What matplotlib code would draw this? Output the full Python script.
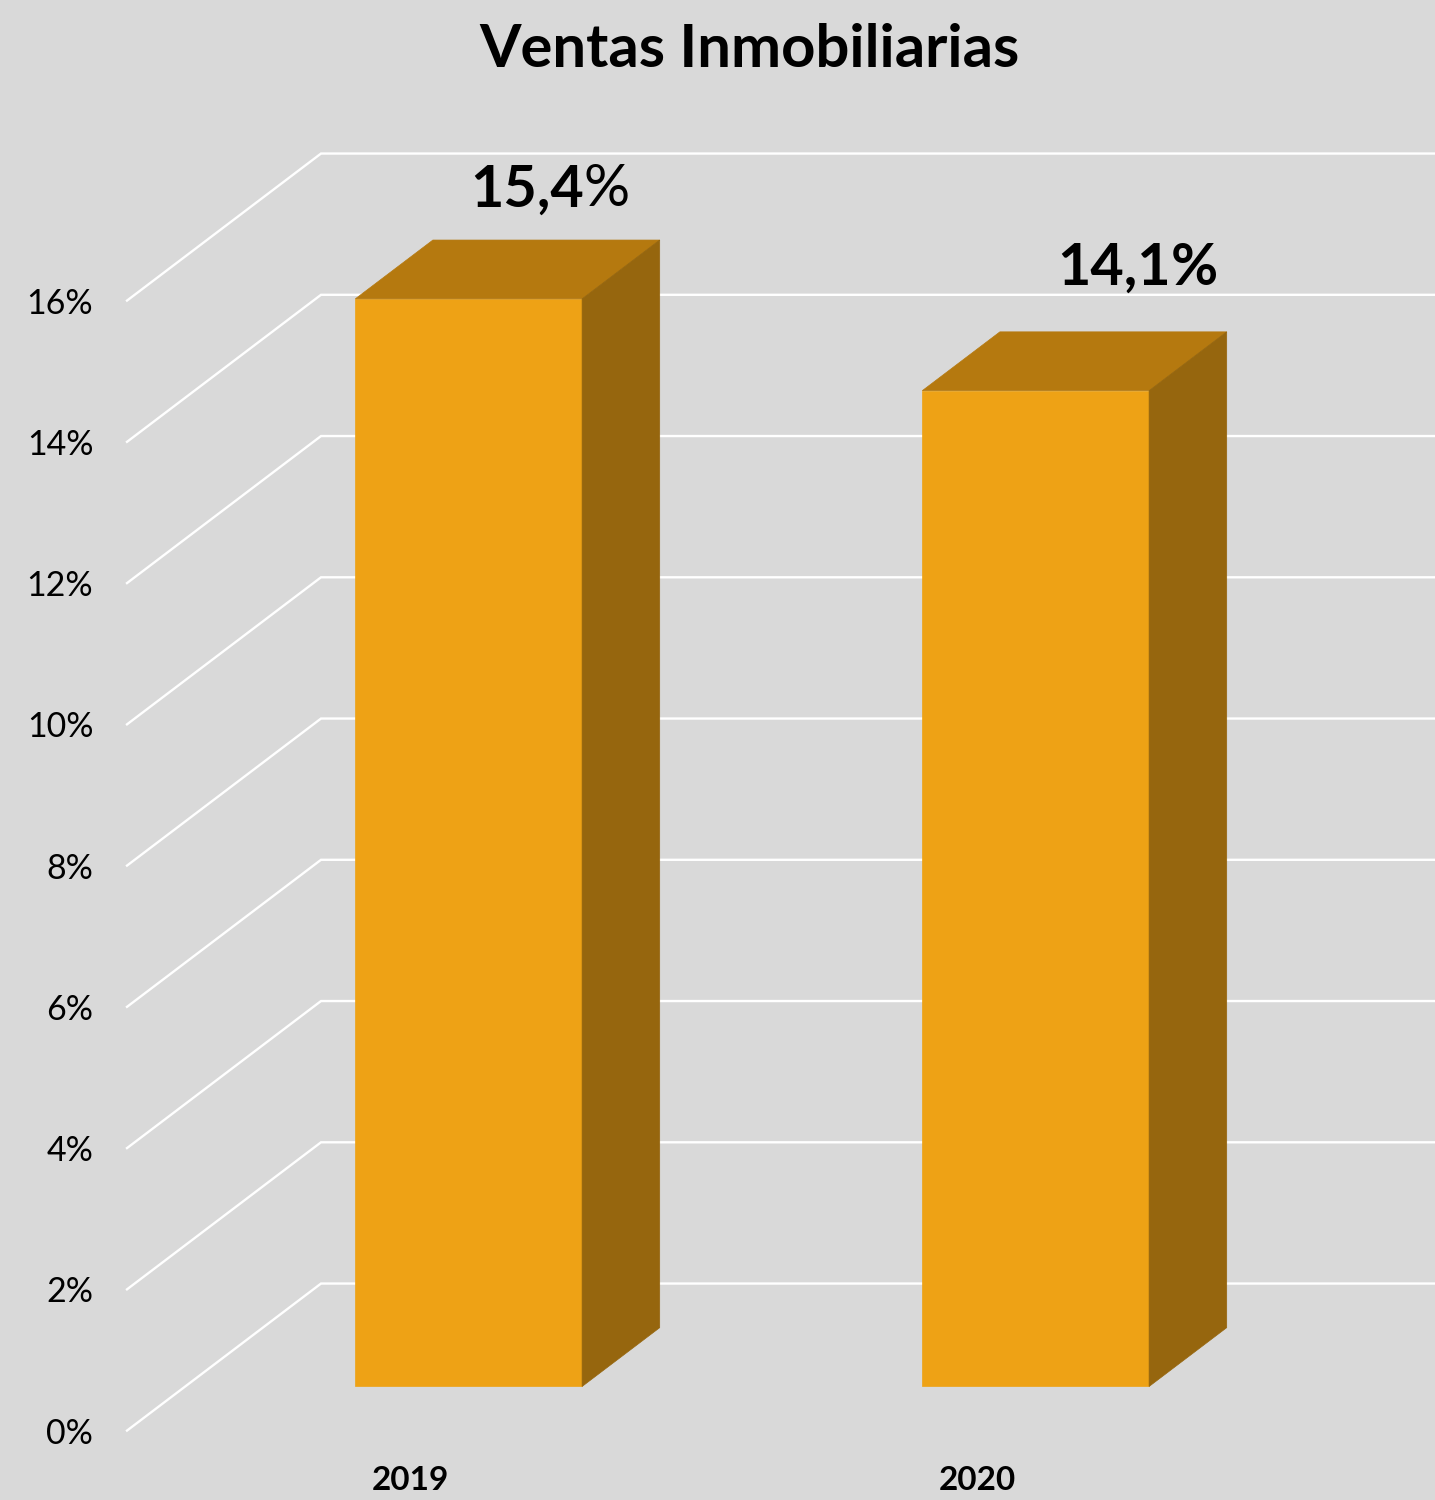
import numpy as np
import matplotlib
matplotlib.use("Agg")
import matplotlib.pyplot as plt

titulo = "Ventas Inmobiliarias"
anios = ["2019", "2020"]
ventas = [15.4, 14.1]
etiquetas = ["15,4", "14,1"]
peso_pct = ["normal", "bold"]
ticks_y = [0, 2, 4, 6, 8, 10, 12, 14, 16]

# colores
fondo = "#D9D9D9"
frente = "#EEA215"
arriba = "#B5790F"
lado = "#96660E"

plt.rcParams["font.family"] = ["Lato", "DejaVu Sans"]

fig = plt.figure(figsize=(14.35, 15), dpi=100, facecolor=fondo)
ax = fig.add_axes([127 / 1435, 69.4 / 1500, 1134 / 1435, 1130 / 1500])
ax.set_facecolor("none")
ax.set_xlim(0, 2)
ax.set_ylim(0, 16)

# desplazamiento de la pared del fondo (efecto 3D)
prof_x = 194 / 567
prof_y = 147 / 70.6


def proyectar(x, y, d):
    return x + d * prof_x, y + d * prof_y


# lineas de la cuadricula: pared lateral y pared del fondo
for t in ticks_y:
    x0, y0 = proyectar(0, t, 0)
    x1, y1 = proyectar(0, t, 1)
    x2, y2 = proyectar(2, t, 1)
    ax.plot([x0, x1, x2], [y0, y1, y2], color="white", lw=1.7, clip_on=False,
            solid_joinstyle="miter", zorder=1)

# barras
ancho = 0.4
d0 = 0.3
d1 = 0.7
desp_x = [80, 100]
desp_y = [109, 122]
corte = [35, 35]
for i, v in enumerate(ventas):
    izq = i + 0.5 - ancho / 2
    der = i + 0.5 + ancho / 2
    esquinas = {
        "a": proyectar(izq, 0, d0), "b": proyectar(der, 0, d0),
        "c": proyectar(der, v, d0), "d": proyectar(izq, v, d0),
        "e": proyectar(der, 0, d1), "f": proyectar(der, v, d1),
        "g": proyectar(izq, v, d1),
    }
    caras = [("abcd", frente), ("dcfg", arriba), ("befc", lado)]
    for nombre, color in caras:
        pts = np.array([esquinas[k] for k in nombre])
        ax.fill(pts[:, 0], pts[:, 1], color=color, lw=0.5, clip_on=False, zorder=3)

    # etiqueta de datos, el % va aparte por el peso de la letra
    cx, cy = proyectar(i + 0.5, v, d0)
    ax.annotate(etiquetas[i], (cx, cy), xytext=(desp_x[i] + corte[i], desp_y[i]),
                textcoords="offset pixels", ha="right", va="center",
                fontsize=41.5, fontweight="bold", color="black", zorder=4,
                annotation_clip=False)
    ax.annotate("%", (cx, cy), xytext=(desp_x[i] + corte[i], desp_y[i]),
                textcoords="offset pixels", ha="left", va="center",
                fontsize=41.5, fontweight=peso_pct[i], color="black", zorder=4,
                annotation_clip=False)

ax.set_xticks([0.5, 1.5])
ax.set_xticklabels(anios, fontsize=24, fontweight="bold")
ax.set_yticks(ticks_y)
ax.set_yticklabels([f"{t}%" for t in ticks_y], fontsize=24.5)
ax.tick_params(axis="x", length=0, pad=25.7)
ax.tick_params(axis="y", length=0, pad=24.3)
for s in ax.spines.values():
    s.set_visible(False)

fig.text(749 / 1435, 1 - 50 / 1500, titulo, ha="center", va="center",
         fontsize=43, fontweight="bold", color="black")

plt.savefig("out.png", dpi=100, facecolor=fondo)
